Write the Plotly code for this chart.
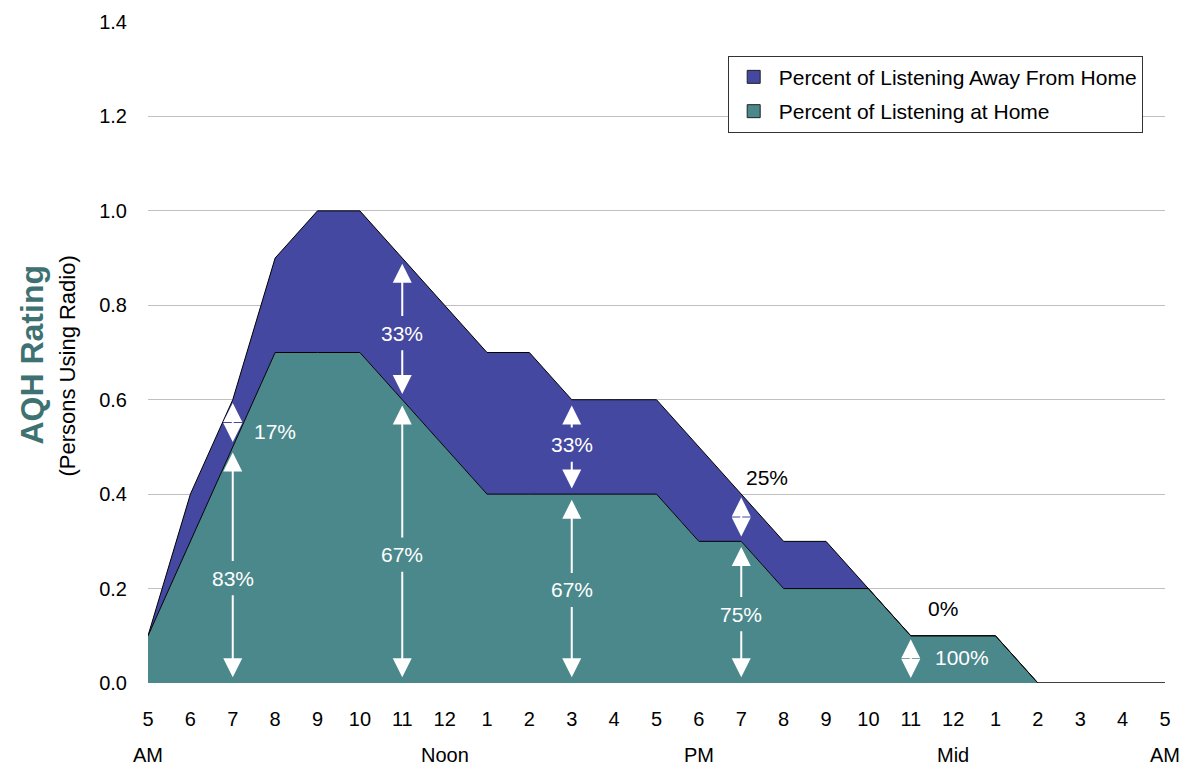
import plotly.graph_objects as go

# Hours of the broadcast day, 5 AM through 5 AM
hours = ["5", "6", "7", "8", "9", "10", "11", "12", "1", "2", "3", "4",
         "5", "6", "7", "8", "9", "10", "11", "12", "1", "2", "3", "4", "5"]
day_part_labels = {0: "AM", 7: "Noon", 13: "PM", 19: "Mid", 24: "AM"}

# AQH ratings: total listening and listening at home
total_rating = [0.1, 0.4, 0.6, 0.9, 1.0, 1.0, 0.9, 0.8, 0.7, 0.7, 0.6, 0.6,
                0.6, 0.5, 0.4, 0.3, 0.3, 0.2, 0.1, 0.1, 0.1, 0.0, 0.0, 0.0, 0.0]
home_rating = [0.1, 0.3, 0.5, 0.7, 0.7, 0.7, 0.6, 0.5, 0.4, 0.4, 0.4, 0.4,
               0.4, 0.3, 0.3, 0.2, 0.2, 0.2, 0.1, 0.1, 0.1, 0.0, 0.0, 0.0, 0.0]

FONT = "Arial Narrow, Liberation Sans, Arial, sans-serif"
PURPLE = "#4448A0"
TEAL = "#4A888C"
TITLE_TEAL = "#3E7272"
LABEL_SIZE = 21

x = list(range(len(hours)))

fig = go.Figure()
fig.add_trace(go.Scatter(
    x=x, y=home_rating, mode="lines", fill="tozeroy",
    fillcolor=TEAL, line=dict(color="black", width=1), showlegend=False,
    hoverinfo="skip"))
fig.add_trace(go.Scatter(
    x=x, y=total_rating, mode="lines", fill="tonexty",
    fillcolor=PURPLE, line=dict(color="black", width=1), showlegend=False,
    hoverinfo="skip"))

# Legend entries as square swatches
fig.add_trace(go.Scatter(
    x=[None], y=[None], mode="markers", name="Percent of Listening Away From Home",
    marker=dict(symbol="square", size=13, color=PURPLE, line=dict(color="#222", width=1)),
    legendgroup="away"))
fig.add_trace(go.Scatter(
    x=[None], y=[None], mode="markers", name="Percent of Listening at Home",
    marker=dict(symbol="square", size=13, color=TEAL, line=dict(color="#222", width=1)),
    legendgroup="home"))

annotations = []
ARROW = dict(showarrow=True, arrowhead=2, arrowsize=1.9, arrowwidth=2,
             arrowcolor="white", axref="x", ayref="y", xref="x", yref="y",
             text="", standoff=0, startstandoff=0)
INSET = 0.012
GAP = 0.033


def pct(part, whole):
    return f"{round(100 * part / whole):d}%"


def split_arrow(i, lo, hi, label_y, text):
    # two arrows pointing outward from a centred label
    annotations.append(dict(ARROW, x=i, y=hi - INSET, ax=i, ay=label_y + GAP))
    annotations.append(dict(ARROW, x=i, y=lo + INSET, ax=i, ay=label_y - GAP))
    annotations.append(dict(x=i, y=label_y, xref="x", yref="y", text=text,
                            showarrow=False,
                            font=dict(family=FONT, size=LABEL_SIZE, color="white")))


def short_arrow(i, lo, hi, label_x, label_y, text, color):
    annotations.append(dict(ARROW, x=i, y=hi - INSET * 0.6, ax=i, ay=lo + INSET * 0.6,
                            arrowside="end+start"))
    annotations.append(dict(x=label_x, y=label_y, xref="x", yref="y", text=text,
                            showarrow=False,
                            font=dict(family=FONT, size=LABEL_SIZE, color=color)))


# 7 AM
i = 2
split_arrow(i, 0.0, home_rating[i], 0.222, pct(home_rating[i], total_rating[i]))
short_arrow(i, home_rating[i], total_rating[i], 3.0, 0.532,
            pct(total_rating[i] - home_rating[i], total_rating[i]), "white")
# 11 AM
i = 6
split_arrow(i, 0.0, home_rating[i], 0.272, pct(home_rating[i], total_rating[i]))
split_arrow(i, home_rating[i], total_rating[i], 0.741,
            pct(total_rating[i] - home_rating[i], total_rating[i]))
# 3 PM
i = 10
split_arrow(i, 0.0, home_rating[i], 0.197, pct(home_rating[i], total_rating[i]))
split_arrow(i, home_rating[i], total_rating[i], 0.505,
            pct(total_rating[i] - home_rating[i], total_rating[i]))
# 7 PM
i = 14
split_arrow(i, 0.0, home_rating[i], 0.146, pct(home_rating[i], total_rating[i]))
short_arrow(i, home_rating[i], total_rating[i], 14.6, 0.436,
            pct(total_rating[i] - home_rating[i], total_rating[i]), "black")
# 11 PM
i = 18
short_arrow(i, 0.0, home_rating[i], 19.2, 0.054,
            pct(home_rating[i], total_rating[i]), "white")
annotations.append(dict(x=18.75, y=0.157, xref="x", yref="y",
                        text=pct(total_rating[i] - home_rating[i], total_rating[i]),
                        showarrow=False,
                        font=dict(family=FONT, size=LABEL_SIZE, color="black")))

# Day-part captions under the hour ticks
for idx, lab in day_part_labels.items():
    annotations.append(dict(x=idx, y=-0.109, xref="x", yref="paper", text=lab,
                            showarrow=False, yanchor="middle", xanchor="center",
                            font=dict(family=FONT, size=20, color="black")))

# Y-axis title
annotations.append(dict(x=-0.114, y=0.497, xref="paper", yref="paper",
                        xanchor="center", yanchor="middle",
                        text="<b>AQH Rating</b>", textangle=-90, showarrow=False,
                        font=dict(family=FONT, size=32, color=TITLE_TEAL)))
annotations.append(dict(x=-0.0795, y=0.479, xref="paper", yref="paper",
                        xanchor="center", yanchor="middle",
                        text="(Persons Using Radio)", textangle=-90, showarrow=False,
                        font=dict(family=FONT, size=22, color="black")))

fig.update_layout(
    width=1186, height=767,
    margin=dict(l=148, r=21, t=22, b=84),
    paper_bgcolor="white", plot_bgcolor="white",
    font=dict(family=FONT, size=20, color="black"),
    annotations=annotations,
    legend=dict(x=0.570, y=0.949, xanchor="left", yanchor="top",
                bordercolor="#333", borderwidth=1, bgcolor="white",
                font=dict(family=FONT, size=21, color="black"),
                tracegroupgap=4, itemwidth=40),
    xaxis=dict(range=[0, 24], tickmode="array", tickvals=x, ticktext=hours,
               showgrid=False, zeroline=False, showline=False, ticks="",
               ticklabelstandoff=22, tickfont=dict(family=FONT, size=20)),
    yaxis=dict(range=[0, 1.4], tickmode="array",
               tickvals=[0, 0.2, 0.4, 0.6, 0.8, 1.0, 1.2, 1.4],
               ticktext=["0.0", "0.2", "0.4", "0.6", "0.8", "1.0", "1.2", "1.4"],
               showgrid=True, gridcolor="#C0C0C0", gridwidth=1,
               zeroline=False, showline=False, ticks="",
               ticklabelstandoff=20, tickfont=dict(family=FONT, size=20)),
)

fig.write_html("out.html")
